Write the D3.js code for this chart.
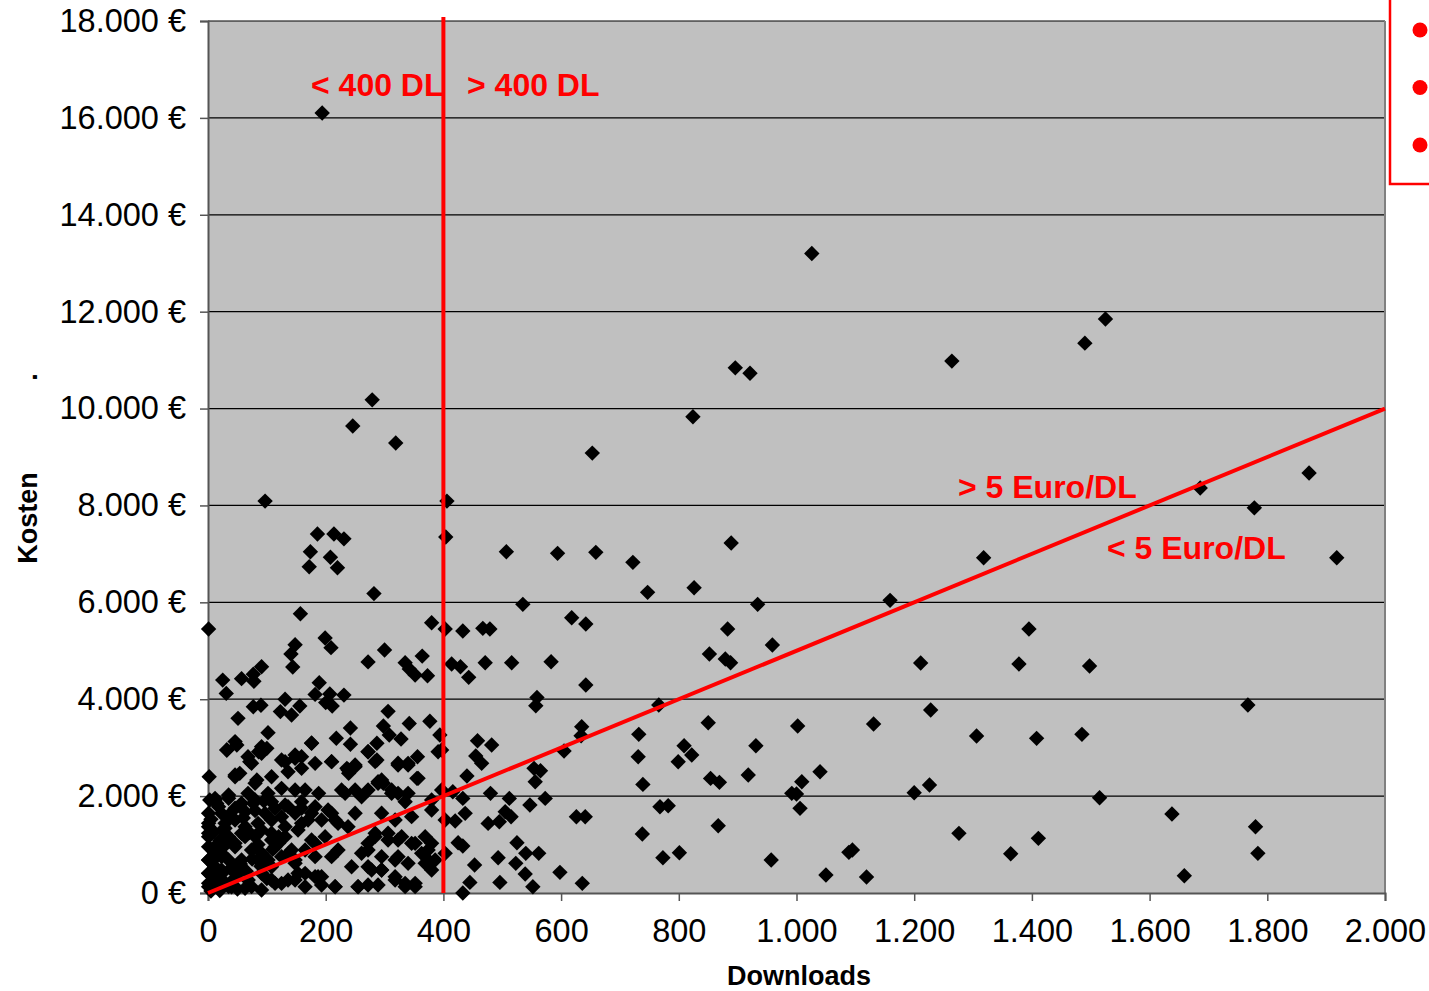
<!DOCTYPE html>
<html>
<head>
<meta charset="utf-8">
<script src="https://cdn.jsdelivr.net/npm/d3@7"></script>
<style>
  html, body { margin: 0; padding: 0; background: #fff; }
  svg { display: block; font-family: "Liberation Sans", Arial, sans-serif; }
</style>
</head>
<body>
<svg id="chart" width="1429" height="991"></svg>
<script>
// ---- data ----
const xTicks = [0, 200, 400, 600, 800, 1000, 1200, 1400, 1600, 1800, 2000];
const yTicks = [0, 2000, 4000, 6000, 8000, 10000, 12000, 14000, 16000, 18000];
const xTickLabels = ["0", "200", "400", "600", "800", "1.000", "1.200", "1.400", "1.600", "1.800", "2.000"];
const yTickLabels = ["0 €", "2.000 €", "4.000 €", "6.000 €", "8.000 €", "10.000 €", "12.000 €", "14.000 €", "16.000 €", "18.000 €"];
const xTitle = "Downloads";
const yTitle = "Kosten";
const dlThreshold = 400;          // vertical split line
const euroPerDl = 5;              // slope of diagonal line
const regionLabels = ["< 400 DL", "> 400 DL", "> 5 Euro/DL", "< 5 Euro/DL"];

const downloads = [
  194,1026,1525,1490,1264,896,921,279,246,824,319,653,97,406,1871,1778,1686,404,
  186,214,231,174,208,172,220,282,157,1,380,403,199,148,209,141,300,272,144,91,335,364,342,352,373,414,
  25,57,77,78,31,189,182,207,231,200,211,131,123,156,142,77,90,51,306,298,342,377,308,328,394,102,242,218,176,242,287,46,91,
  507,594,659,722,889,747,826,535,934,433,467,479,618,642,883,429,443,471,516,583,642,852,879,888,959,559,557,766,850,1002,
  397,458,482,455,465,635,634,605,732,731,809,822,799,931,554,565,556,440,739,854,869,918,1009,1040,992,1000,1006,
  416,433,480,512,573,547,403,420,437,476,495,505,515,626,641,768,782,738,867,425,433,525,403,453,493,523,540,562,539,598,773,801,957,445,496,552,636,433,
  1318,1918,1159,1395,1211,1378,1498,1228,1767,1131,1306,1408,1485,1226,1200,1515,1638,1780,1276,1411,1095,1089,1364,1784,1050,1119,1659,
  32,272,391,68,74,91,131,148,159,210,236,250,284,323,340,356,355,46,54,80,2,239,
  289,298,227,250,272,312,323,340,380,165,188,148,125,102,68,35,12,3,397,
  18,46,77,114,136,159,176,193,210,221,250,295,318,346,380,1,1,29,63,108,131,159,108,131,
  1,1,1,1,1,12,23,35,46,57,52,68,74,18,35,91,102,120,137,148,165,182,199,210,221,182,193,216,255,272,289,318,335,352,
  261,272,284,306,323,346,369,374,386,318,369,380,295,272,244,165,125,108,91,148,63,80,35,108,
  5,10,20,25,30,40,45,15,50,55,8,30,20,10,25,5,60,80,95,15,35,70,85,110,5,12,65,75,90,100,
  32,49,86,100,125,148,176,71,83,46,108,136,159,182,12,35,57,80,108,131,159,182,23,63,97,125,148,1,46,85,170,1,29,57,91,120,153,
  12,46,74,114,142,176,1,23,52,85,108,148,182,1,23,46,68,1,18,40,63,91,114,136,165,187,125,153,
  210,238,250,272,287,323,340,357,289,295,233,261,312,335,204,216,238,284,306,329,352,380,272,295,323,340,363,374,278,295,318,335,352,255,216,193
];
const costs = [
  16100,13200,11850,11350,10980,10840,10730,10180,9640,9830,9290,9080,8090,8090,8670,7950,8360,7350,
  7410,7410,7310,7045,6930,6735,6715,6180,5765,5450,5580,5450,5265,5125,5065,4935,5015,4770,4665,4670,4755,4890,4625,4500,4485,4727,
  4395,4425,4515,4370,4120,4340,4100,4110,4085,3930,3860,4000,3745,3860,3675,3845,3875,3605,3750,3447,3500,3545,3260,3180,3260,3310,3405,3195,3095,3070,3090,3125,3020,
  7045,7011,7032,6825,7224,6206,6302,5958,5958,5408,5463,5449,5683,5552,5449,4671,4451,4754,4754,4775,4293,4933,4830,4754,5118,4038,3866,3880,3515,3447,
  2951,3144,3054,2827,2676,3433,3247,2931,3275,2813,3041,2848,2710,3041,2573,2524,2297,2414,2242,2366,2284,2435,2297,2504,2057,2043,1747,
  2091,1953,2057,1953,1953,1816,1506,1485,1644,1437,1472,1678,1575,1575,1575,1781,1802,1217,1389,1038,969,1038,818,577,728,612,818,818,391,426,728,832,680,219,219,130,199,0,
  6921,6921,6041,5449,4747,4726,4685,3777,3880,3488,3240,3192,3275,2229,2070,1967,1630,1368,1231,1128,887,839,811,818,371,329,357,
  2952,2917,2917,2814,2677,2883,2711,2780,2814,2711,2573,2608,2711,2677,2642,2814,2367,2401,2470,2264,2401,2470,
  2298,2264,2126,2126,2126,2126,2057,2057,1920,2126,2057,2126,2160,2057,2057,2023,1954,1920,2126,
  1782,1748,1851,1748,1782,1748,1645,1507,1645,1438,1645,1645,1507,1576,1713,1645,1369,1438,1369,1507,1369,1438,1232,1163,
  1163,956,681,406,199,543,819,681,956,681,406,268,131,268,131,819,681,1025,819,681,888,1025,1163,750,888,337,165,131,131,165,165,268,131,131,
  819,1025,1232,1232,1094,1025,1163,888,681,681,612,475,475,543,543,406,199,268,406,268,1163,1163,1163,1094,
  100,300,50,420,200,520,300,760,80,600,880,1000,1080,1260,1300,1520,1550,1700,1900,1850,1600,1250,1000,900,40,150,450,700,550,300,
  2952,3055,2917,2986,2745,2848,3089,2711,2332,2436,2401,2504,2573,2676,1919,1954,1851,1919,1885,1816,1885,1782,1644,1679,1644,1575,1644,1438,1507,1438,1507,1231,1335,1231,1300,1163,1300,
  956,1025,887,956,887,1094,681,750,612,681,543,612,750,406,475,406,268,130,199,130,96,62,199,268,130,337,750,406,
  2711,2539,2642,2917,2745,2642,2676,2367,2263,2332,2057,1988,2057,1885,1713,1507,1369,1163,1094,1163,1025,1025,887,750,750,612,818,681,475,475,337,199,199,130,130,337
];

// ---- layout ----
const svg = d3.select("#chart");
const pLeft = 208, pRight = 1385, pTop = 21, pBottom = 893;
const x = d3.scaleLinear().domain([0, 2000]).range([pLeft, pRight]);
const y = d3.scaleLinear().domain([0, 18000]).range([pBottom, pTop]);
const RED = "#ff0000";

// plot background
svg.append("rect").attr("x", pLeft).attr("y", pTop).attr("width", pRight - pLeft).attr("height", pBottom - pTop)
  .attr("fill", "#c0c0c0");

// grid lines
svg.append("g").selectAll("line").data(yTicks.slice(1)).join("line")
  .attr("x1", pLeft).attr("x2", pRight).attr("y1", d => y(d)).attr("y2", d => y(d))
  .attr("stroke", "#000").attr("stroke-width", 1.2);

// right border
svg.append("line").attr("x1", pRight).attr("x2", pRight).attr("y1", pTop).attr("y2", pBottom)
  .attr("stroke", "#808080").attr("stroke-width", 2);

// axes
const yAxis = d3.axisLeft(y).tickValues(yTicks).tickSize(8).tickPadding(14)
  .tickFormat((d, i) => yTickLabels[i]);
const gy = svg.append("g").attr("transform", `translate(${pLeft},0)`).call(yAxis);
gy.select(".domain").attr("stroke", "#555").attr("stroke-width", 2);
gy.selectAll(".tick line").attr("stroke", "#555").attr("stroke-width", 1.5);
gy.selectAll(".tick text").attr("font-size", 32.5).attr("fill", "#000")
  .attr("font-family", "'Liberation Sans', Arial, sans-serif");

const xAxis = d3.axisBottom(x).tickValues(xTicks).tickSize(8).tickPadding(18)
  .tickFormat((d, i) => xTickLabels[i]);
const gx = svg.append("g").attr("transform", `translate(0,${pBottom})`).call(xAxis);
gx.select(".domain").attr("stroke", "#555").attr("stroke-width", 2);
gx.selectAll(".tick line").attr("stroke", "#555").attr("stroke-width", 1.5);
gx.selectAll(".tick text").attr("font-size", 32.5).attr("fill", "#000")
  .attr("font-family", "'Liberation Sans', Arial, sans-serif");

// points
const pts = downloads.map((d, i) => [d, costs[i]]);
svg.append("g").selectAll("path").data(pts).join("path")
  .attr("transform", d => `translate(${x(d[0])},${y(d[1])})`)
  .attr("d", "M0,-7.7L7.7,0L0,7.7L-7.7,0Z")
  .attr("fill", "#000");

// red reference lines
svg.append("line").attr("x1", x(dlThreshold)).attr("x2", x(dlThreshold))
  .attr("y1", y(0)).attr("y2", pTop - 4)
  .attr("stroke", RED).attr("stroke-width", 4);
svg.append("line").attr("x1", x(0)).attr("y1", y(0))
  .attr("x2", x(2000)).attr("y2", y(2000 * euroPerDl))
  .attr("stroke", RED).attr("stroke-width", 4);

// red labels
const labelPos = [[311, 96], [467, 96], [958, 498], [1107, 559]];
svg.append("g").selectAll("text").data(regionLabels).join("text")
  .attr("x", (d, i) => labelPos[i][0]).attr("y", (d, i) => labelPos[i][1])
  .attr("fill", RED).attr("font-weight", "bold").attr("font-size", 32)
  .text(d => d);

// axis titles
svg.append("text").attr("x", 799).attr("y", 985).attr("text-anchor", "middle")
  .attr("font-weight", "bold").attr("font-size", 27).text(xTitle);
svg.append("text").attr("transform", "translate(37,518) rotate(-90)").attr("text-anchor", "middle")
  .attr("font-weight", "bold").attr("font-size", 27).text(yTitle);
svg.append("text").attr("transform", "translate(37,377) rotate(-90)").attr("text-anchor", "middle")
  .attr("font-weight", "bold").attr("font-size", 27).text(".");

// legend box (cut off at right edge)
svg.append("rect").attr("x", 1390).attr("y", -10).attr("width", 80).attr("height", 194)
  .attr("fill", "#fff").attr("stroke", RED).attr("stroke-width", 2.5);
svg.append("g").selectAll("circle").data([0, 1, 2]).join("circle")
  .attr("cx", 1420).attr("cy", d => 30 + d * 57.5).attr("r", 7.5).attr("fill", RED);
</script>
</body>
</html>
